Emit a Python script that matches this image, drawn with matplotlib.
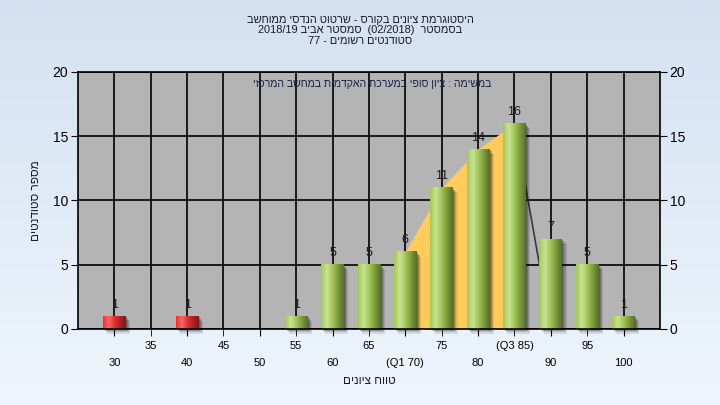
import matplotlib.pyplot as plt
import numpy as np
from matplotlib.colors import LinearSegmentedColormap
from matplotlib.patches import Rectangle

# =====================================================
# Data
# =====================================================

bins = ['30', '35', '40', '45', '50', '55', '60', '65', '(Q1 70)',
        '75', '80', '(Q3 85)', '90', '95', '100']
counts = [1, 0, 1, 0, 0, 1, 5, 5, 6, 11, 14, 16, 7, 5, 1]
failing = [True, True, True, True, True, False, False, False, False,
           False, False, False, False, False, False]
q1_index = 8
q3_index = 11

title_lines = [
    'היסטוגרמת ציונים בקורס - שרטוט הנדסי ממוחשב',
    'בסמסטר  (02/2018)  סמסטר אביב 2018/19',
    'סטודנטים רשומים - 77',
]
subtitle = 'במשימה : ציון סופי במערכת האקדמית במחשב המרכזי'
x_label = 'טווח ציונים'
y_label = 'מספר סטודנטים'


def rtl(s):
    # matplotlib has no bidi, so lay the hebrew out in visual order
    out = []
    for word in reversed(s.split(' ')):
        if any('\u0590' <= c <= '\u05ff' for c in word):
            out.append(word[::-1])
        else:
            out.append(word)
    return ' '.join(out)


plt.rcParams['font.family'] = ['Liberation Sans', 'DejaVu Sans']

fig = plt.figure(figsize=(7.2, 4.05), dpi=100)

# =====================================================
# Background gradient
# =====================================================

bg = fig.add_axes([0, 0, 1, 1], zorder=-10)
bg_cmap = LinearSegmentedColormap.from_list('bg', ['#eef5fd', '#d4e1f1'])
bg.imshow(np.linspace(0, 1, 256).reshape(-1, 1), cmap=bg_cmap,
          aspect='auto', extent=(0, 1, 0, 1), origin='lower')
bg.axis('off')

# =====================================================
# Main axes
# =====================================================

ax = fig.add_axes([0.1083, 0.1877, 0.8083, 0.6346])
ax.set_facecolor('#b4b4b4')

x = np.arange(len(bins))
width = 0.63

green = LinearSegmentedColormap.from_list(
    'green', ['#9fcb4c', '#c9e395', '#a2c656', '#7c9a3c', '#566f2a'])
red = LinearSegmentedColormap.from_list(
    'red', ['#ff2a2a', '#ff6a6a', '#e03030', '#b02020', '#801818'])
grad = np.linspace(0, 1, 64).reshape(1, -1)

# Q1-Q3 area
qx = x[q1_index:q3_index + 1]
qy = counts[q1_index:q3_index + 1]
ax.fill_between(qx, 0, qy, color='#ffcc5c', zorder=1, linewidth=0)
ax.plot([x[q3_index], x[q3_index + 1]], [counts[q3_index], 0],
        color='#3a3a3a', linewidth=1.2, zorder=1.1)

for xi, c, bad in zip(x, counts, failing):
    if c == 0:
        continue
    # blurred drop shadow
    for k, a in enumerate([0.2, 0.17, 0.14, 0.1]):
        d = 0.03 + 0.03 * k
        ax.add_patch(Rectangle((xi - width / 2 + d, -d * 3.0), width, c,
                               facecolor='black', alpha=a, linewidth=0,
                               zorder=1.5, clip_on=False))
    ax.imshow(grad, cmap=red if bad else green, aspect='auto',
              extent=(xi - width / 2, xi + width / 2, 0, c), zorder=2)
    ax.annotate(str(c), (xi, c), xytext=(0, 4), textcoords='offset points',
                ha='center', va='bottom', fontsize=9, color='#1a1a1a',
                zorder=3)

ax.set_xlim(-1, len(bins))
ax.set_ylim(0, 20)

# two rows of tick labels
ax.set_xticks(x[::2], [bins[i] for i in x[::2]])
ax.set_xticks(x[1::2], [bins[i] for i in x[1::2]], minor=True)
ax.tick_params(axis='x', which='major', pad=16, length=5, labelsize=8,
               color='black')
ax.tick_params(axis='x', which='minor', pad=4, length=5, labelsize=8,
               color='black')
ax.set_yticks([0, 5, 10, 15, 20])
ax.tick_params(axis='y', which='major', length=5, labelsize=10,
               left=True, right=True, labelleft=True, labelright=True,
               color='black', pad=2)

ax.set_axisbelow(True)
ax.grid(axis='x', which='both', color='black', linewidth=1.2)
ax.grid(axis='y', which='major', color='black', linewidth=1.2)

for s in ax.spines.values():
    s.set_color('black')
    s.set_linewidth(1.2)

# =====================================================
# Labels
# =====================================================

ax.text(0.505, 0.955, rtl(subtitle), transform=ax.transAxes, ha='center',
        va='center', fontsize=7.6, color='#1a1f45')

fig.text(0.5, 0.925, '\n'.join(rtl(t) for t in title_lines), ha='center',
         va='center', fontsize=7.9, linespacing=1.05, color='#1a1a2a')

fig.text(0.513, 0.06, rtl(x_label), ha='center', va='center',
         fontsize=8.5, color='#1a1a2a')
fig.text(0.05, 0.505, rtl(y_label), ha='center', va='center',
         rotation=90, fontsize=8.5, color='#1a1a2a')

fig.savefig('out.png', dpi=100)
